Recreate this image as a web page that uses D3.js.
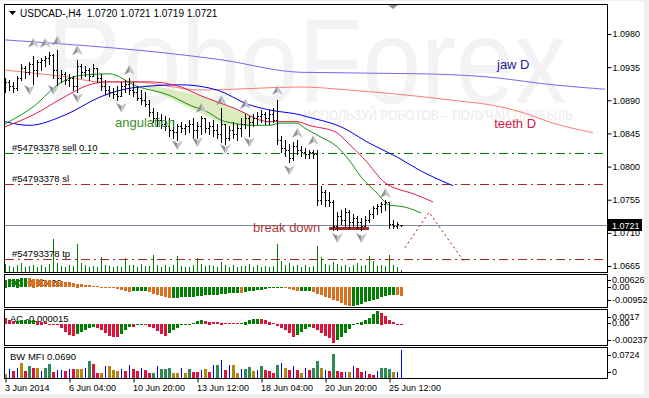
<!DOCTYPE html>
<html>
<head>
<meta charset="utf-8">
<script src="https://cdn.jsdelivr.net/npm/d3@7"></script>
<style>
body { margin: 0; background: #f0f0f0; }
svg { display: block; }
text { font-family: "Liberation Sans", Arial, sans-serif; white-space: pre; }
</style>
</head>
<body>
<div id="chart"></div>
<script>
// USDCAD H4 bars, 3 Jun 2014 .. 25 Jun 2014
var openP = [1.0907,1.0915,1.0909,1.0907,1.0920,1.0934,1.0928,1.0939,1.0931,1.0942,
  1.0945,1.0947,1.0952,1.0931,1.0920,1.0926,1.0918,1.0920,1.0909,1.0937,
  1.0928,1.0931,1.0923,1.0934,1.0920,1.0909,1.0904,1.0901,1.0899,1.0896,
  1.0909,1.0912,1.0904,1.0901,1.0893,1.0890,1.0885,1.0874,1.0866,1.0863,
  1.0858,1.0855,1.0850,1.0847,1.0855,1.0852,1.0855,1.0858,1.0850,1.0855,
  1.0866,1.0852,1.0855,1.0850,1.0844,1.0858,1.0839,1.0850,1.0844,1.0852,
  1.0858,1.0866,1.0861,1.0866,1.0869,1.0871,1.0866,1.0871,1.0863,1.0836,
  1.0825,1.0823,1.0812,1.0828,1.0823,1.0820,1.0817,1.0820,1.0817,1.0755,
  1.0765,1.0755,1.0752,1.0719,1.0733,1.0727,1.0738,1.0725,1.0730,1.0725,
  1.0719,1.0727,1.0736,1.0744,1.0746,1.0749,1.0752,1.0722,1.0719,1.0720];
var highP = [1.0920,1.0918,1.0915,1.0923,1.0939,1.0937,1.0942,1.0950,1.0945,1.0947,
  1.0950,1.0956,1.0953,1.0958,1.0931,1.0928,1.0926,1.0923,1.0945,1.0939,
  1.0937,1.0934,1.0939,1.0934,1.0926,1.0918,1.0909,1.0907,1.0909,1.0915,
  1.0918,1.0920,1.0915,1.0909,1.0904,1.0901,1.0890,1.0880,1.0874,1.0871,
  1.0869,1.0866,1.0863,1.0858,1.0861,1.0858,1.0863,1.0866,1.0861,1.0869,
  1.0866,1.0861,1.0863,1.0858,1.0880,1.0858,1.0855,1.0861,1.0858,1.0866,
  1.0871,1.0869,1.0871,1.0874,1.0877,1.0874,1.0877,1.0880,1.0890,1.0842,
  1.0836,1.0831,1.0833,1.0836,1.0828,1.0825,1.0823,1.0823,1.0823,1.0774,
  1.0768,1.0765,1.0755,1.0738,1.0741,1.0744,1.0741,1.0736,1.0733,1.0730,
  1.0733,1.0741,1.0746,1.0749,1.0752,1.0755,1.0752,1.0727,1.0725,1.0721];
var lowP = [1.0901,1.0904,1.0901,1.0904,1.0918,1.0920,1.0926,1.0912,1.0923,1.0931,
  1.0937,1.0939,1.0920,1.0909,1.0915,1.0912,1.0909,1.0904,1.0901,1.0920,
  1.0923,1.0918,1.0923,1.0915,1.0904,1.0899,1.0896,1.0893,1.0890,1.0896,
  1.0901,1.0899,1.0896,1.0890,1.0885,1.0882,1.0869,1.0861,1.0855,1.0852,
  1.0850,1.0842,1.0839,1.0836,1.0847,1.0844,1.0847,1.0839,1.0839,1.0844,
  1.0847,1.0844,1.0842,1.0839,1.0833,1.0831,1.0836,1.0839,1.0836,1.0842,
  1.0852,1.0842,1.0855,1.0858,1.0861,1.0858,1.0858,1.0861,1.0831,1.0820,
  1.0814,1.0806,1.0809,1.0817,1.0814,1.0812,1.0812,1.0812,1.0748,1.0749,
  1.0746,1.0746,1.0714,1.0714,1.0722,1.0719,1.0717,1.0719,1.0717,1.0714,
  1.0719,1.0725,1.0730,1.0736,1.0738,1.0741,1.0717,1.0717,1.0717,1.0719];
var closeP = [1.0915,1.0909,1.0907,1.0920,1.0934,1.0928,1.0939,1.0931,1.0942,1.0945,
  1.0947,1.0952,1.0931,1.0920,1.0926,1.0918,1.0920,1.0909,1.0937,1.0928,
  1.0931,1.0923,1.0934,1.0920,1.0909,1.0904,1.0901,1.0899,1.0896,1.0909,
  1.0912,1.0904,1.0901,1.0893,1.0890,1.0885,1.0874,1.0866,1.0863,1.0858,
  1.0855,1.0850,1.0847,1.0855,1.0852,1.0855,1.0858,1.0850,1.0855,1.0866,
  1.0852,1.0855,1.0850,1.0844,1.0858,1.0839,1.0850,1.0844,1.0852,1.0858,
  1.0866,1.0861,1.0866,1.0869,1.0871,1.0866,1.0871,1.0863,1.0836,1.0825,
  1.0823,1.0812,1.0828,1.0823,1.0820,1.0817,1.0820,1.0817,1.0755,1.0765,
  1.0755,1.0752,1.0719,1.0733,1.0727,1.0738,1.0725,1.0730,1.0725,1.0719,
  1.0727,1.0736,1.0744,1.0746,1.0749,1.0752,1.0722,1.0719,1.0722,1.0721];

var volumes = [2000,1400,1200,1600,2200,1300,1500,1800,1100,1700,
  1300,1900,8000,2300,1500,1200,1700,1400,6800,2100,
  1600,1300,1500,1200,3600,1800,1400,1100,1500,1300,
  3400,1700,1600,1200,1900,1400,1500,4100,1800,1300,
  1600,1200,1700,3900,1500,1300,1100,1600,3400,2000,
  1400,1800,1500,1200,2400,1600,1300,1700,1100,1500,
  1400,1900,1300,1600,1200,1500,1100,1400,6800,2600,
  1800,2200,1500,1700,1300,1600,1200,1400,6300,3600,
  2000,1700,2400,1900,1500,1800,1300,1600,2100,1400,
  1700,3900,2600,1500,1800,1400,4100,1600,1300,500];

// Alligator H4 read at sample bars: [bar, price]
var jawH4 = [[0,1.0861],[6,1.0856],[15,1.0870],[24,1.0895],[32,1.0907],[44,1.0911],[53,1.0904],
  [61,1.0884],[66,1.0877],[74,1.0870],[76,1.0867],[84,1.0854],[91,1.0832],[98,1.0813],[104,1.0794],[112,1.0774]];
var teethH4 = [[0,1.0854],[7,1.0870],[15,1.0895],[21,1.0911],[26,1.0915],[36,1.0915],[44,1.0908],
  [49,1.0896],[57,1.0880],[66,1.0861],[73,1.0861],[76,1.0856],[83,1.0846],[85,1.0836],[90,1.0809],
  [95,1.0778],[99,1.0768],[101,1.0765],[104,1.0759],[107,1.0752]];
var lipsH4 = [[0,1.0858],[7,1.0881],[14,1.0914],[18,1.0923],[26,1.0926],[33,1.0909],[41,1.0897],
  [46,1.0884],[51,1.0873],[54,1.0863],[57,1.0859],[62,1.0856],[66,1.0856],[69,1.0859],[73,1.0859],
  [75,1.0852],[79,1.0840],[83,1.0827],[86,1.0809],[89,1.0786],[93,1.0764],[96,1.0748],[100,1.0745],[104,1.0737]];
var jawD = [[0,1.0972],[54,1.0945],[74,1.0928],[104,1.0926],[120,1.0922],[137,1.0911],[150,1.0905]];
var teethD = [[0,1.0931],[7,1.0927],[15,1.0922],[24,1.0915],[32,1.0915],[49,1.0904],[74,1.0908],
  [86,1.0904],[104,1.0895],[112,1.0890],[124,1.0881],[129,1.0874],[137,1.0859],[147,1.0846]];

var fractalsUp = [[7,1.0968],[10,1.0968],[13,1.0971],[18,1.0958],[31,1.0931],[49,1.0880],[54,1.0890],
  [60,1.0885],[68,1.0904],[73,1.0846],[77,1.0836],[95,1.0764]];
var fractalsDown = [[6,1.0904],[12,1.0904],[18,1.0893],[29,1.0880],[43,1.0829],[48,1.0833],[55,1.0824],
  [61,1.0833],[71,1.0795],[83,1.0703],[89,1.0703]];

var aoValues = [3.6,3.8,4.0,4.1,4.2,4.3,4.2,4.1,3.9,3.7,3.5,3.3,3.1,2.9,2.7,2.5,2.3,2.0,1.7,1.4,
  1.1,0.8,0.6,0.4,0.2,0.05,-0.3,-0.7,-1.1,-1.5,-1.9,-2.2,-2.15,-2.1,-2.05,-2.0,-2.6,-3.2,-3.8,-4.4,
  -4.9,-5.3,-5.2,-5.1,-5.0,-4.9,-4.8,-4.6,-4.4,-4.2,-4.0,-3.9,-3.8,-3.6,-3.5,-3.3,-3.1,-2.9,-2.7,-2.8,
  -2.4,-2.1,-1.8,-1.5,-1.2,-0.9,-0.6,-0.3,0.1,0.2,-0.3,-0.8,-1.4,-2.0,-1.95,-1.9,-1.85,-2.5,-3.2,-3.9,
  -4.6,-5.3,-6.0,-6.8,-7.6,-8.4,-9.1,-8.9,-8.5,-8.0,-7.4,-6.8,-6.2,-5.6,-5.0,-4.5,-4.0,-3.7,-3.9,-4.29]; // x 0.001
var acValues = [6.5,5.0,3.5,3.8,4.2,4.5,4.8,5.0,4.0,3.0,2.2,-0.5,-1.0,-1.5,-5,-9,-12,-13,-11,-9,
  -7,-5,-3.5,-4.5,-7,-10,-13,-14,-14.5,-11,-7,-3,-3.5,-0.3,-0.2,-1.5,-3,-5,-8,-11,
  -13,-10,-7,-4.5,-0.5,0.3,0.6,0.9,3.5,4.5,3.8,3.0,2.5,2.0,1.7,1.5,1.3,1.1,0.9,1.5,
  3.0,4.5,5.5,6.0,5.5,4.5,3.0,1.5,-2,-4.5,-7,-10,-14,-12,-9,-6,-3.5,-4,-7,-10,
  -13,-16,-21.5,-18,-14,-10,-6,-1,1.5,3,5,7,11,15,13,9,5,2.5,0.8,-0.15]; // x 0.0001
var mfiValues = [9,22,17,26,38,17,30,26,26,17,26,34,15,20,20,17,23,22,22,22,
  26,42,34,12,13,30,30,19,17,22,17,32,22,18,26,20,12,13,30,23,
  23,26,13,12,25,13,22,15,15,20,22,15,32,32,45,20,32,32,12,22,
  23,28,18,19,30,19,17,12,33,38,26,19,30,19,12,24,19,26,42,25,
  19,17,59,17,15,15,15,30,26,15,17,11,8,17,25,25,22,15,15,69]; // x 0.001
var mfiKinds = 'fbsbfsgsfbggsbbsbsffbgssfbfffbsbssbssgbggg' +
  'ffbfgssbfsbgbsbffbggfbgsssgbfsbsfbsggfbsgssbfbssbssbgggfbb';

var timeTickBars = [0,16,32,48,64,80,96];
var timeTickLabels = ['3 Jun 2014','6 Jun 04:00','10 Jun 20:00','13 Jun 12:00','18 Jun 04:00','20 Jun 20:00','25 Jun 12:00'];
var priceTicks = [1.0665,1.0710,1.0755,1.0800,1.0845,1.0890,1.0935,1.0980];

var orderLines = [
  {label: '#54793378 sell 0.10', price: 1.0818, color: '#008000'},
  {label: '#54793378 sl', price: 1.0777, color: '#a52a2a'},
  {label: '#54793378 tp', price: 1.0674, color: '#a52a2a'}
];
var lastPrice = 1.0721;
var angulationZone = [[35,1.0912],[49,1.0896],[57,1.0880],[62,1.0869],[62,1.0855],[55,1.0856],[35,1.0909]];
var breakLevel = [[81,1.0716],[91,1.0716]];
var projection = [[100,1.0690],[106,1.0738],[115,1.0669]];
var notes = [
  {text: 'angulation', bar: 27.5, price: 1.0854, color: '#3a8f2c'},
  {text: 'break down', bar: 62, price: 1.0711, color: '#b03a3a'},
  {text: 'jaw D', bar: 123, price: 1.0933, color: '#1c1c96'},
  {text: 'teeth D', bar: 122.3, price: 1.0852, color: '#d02040'}
];

var W = 649, H = 398;
var svg = d3.select('#chart').append('svg').attr('width', W).attr('height', H);
svg.append('rect').attr('width', W).attr('height', H).attr('fill', '#f0f0f0');
svg.append('rect').attr('x', 0).attr('y', 1).attr('width', 644).attr('height', 393).attr('fill', '#fff');

var x = d3.scaleLinear().domain([0, 150]).range([5, 605]);
var y = d3.scaleLinear().domain([1.0665, 1.0980]).range([266, 34]);
var yAO = d3.scaleLinear().domain([-0.00952, 0.00626]).range([307, 274]);
var yAC = d3.scaleLinear().domain([-0.00237, 0.0017]).range([345.5, 309]);
var yMFI = d3.scaleLinear().domain([0, 0.0724]).range([378, 349]);
var yVol = d3.scaleLinear().domain([0, 8000]).range([272, 239]);

// watermark
svg.append('text').attr('x', x(10.5)).attr('y', 103).text('RoboForex')
  .attr('font-size', 120).attr('textLength', 520).attr('lengthAdjust', 'spacingAndGlyphs')
  .attr('fill', '#f3f3f6');
svg.append('text').attr('x', x(74.5)).attr('y', 120).text('ИСПОЛЬЗУЙ РОБОТОВ – ПОЛУЧАЙ ПРИБЫЛЬ')
  .attr('font-size', 15).attr('textLength', 270).attr('lengthAdjust', 'spacingAndGlyphs')
  .attr('fill', '#ebebf0');

var line = d3.line().x(function (d) { return x(d[0]); }).y(function (d) { return y(d[1]); });
var smooth = d3.line().x(function (d) { return x(d[0]); }).y(function (d) { return y(d[1]); }).curve(d3.curveMonotoneX);

svg.append('path').attr('d', line(angulationZone) + 'Z').attr('fill', '#d6e9b3').attr('opacity', 0.85);

// volumes
svg.append('g').attr('shape-rendering', 'crispEdges').selectAll('rect')
  .data(volumes).enter().append('rect')
  .attr('x', function (d, i) { return x(i); })
  .attr('y', function (d) { return Math.round(yVol(d)); })
  .attr('width', 1)
  .attr('height', function (d) { return 272 - Math.round(yVol(d)); })
  .attr('fill', '#008000');

// order lines
orderLines.forEach(function (o) {
  var yy = Math.round(y(o.price)) + 0.5;
  svg.append('line').attr('x1', 5).attr('x2', 607).attr('y1', yy).attr('y2', yy)
    .attr('stroke', o.color).attr('stroke-dasharray', '9,4,2,4');
  svg.append('text').attr('x', x(1.75)).attr('y', yy - 3).text(o.label)
    .attr('font-size', 9.5).attr('fill', '#000');
});
var yLast = Math.round(y(lastPrice)) + 0.5;
svg.append('line').attr('x1', 5).attr('x2', 607).attr('y1', yLast).attr('y2', yLast).attr('stroke', '#7a8a9a');

// daily alligator
svg.append('path').attr('d', smooth(jawD)).attr('fill', 'none').attr('stroke', '#7b68ee');
svg.append('path').attr('d', smooth(teethD)).attr('fill', 'none').attr('stroke', '#fa8072');
// H4 alligator
svg.append('path').attr('d', smooth(jawH4)).attr('fill', 'none').attr('stroke', '#0000ee');
svg.append('path').attr('d', smooth(teethH4)).attr('fill', 'none').attr('stroke', '#e0204a');
svg.append('path').attr('d', smooth(lipsH4)).attr('fill', 'none').attr('stroke', '#139313');

svg.append('path').attr('d', line(breakLevel)).attr('stroke', '#a52a2a').attr('stroke-width', 3);
svg.append('path').attr('d', line(projection)).attr('fill', 'none').attr('stroke', '#9b1c1c')
  .attr('stroke-dasharray', '2,3');

// OHLC bars
var bars = d3.range(openP.length).map(function (i) {
  return {i: i, o: openP[i], h: highP[i], l: lowP[i], c: closeP[i]};
});
var gb = svg.append('g').attr('shape-rendering', 'crispEdges').attr('fill', '#000');
gb.selectAll('rect.hl').data(bars).enter().append('rect').attr('class', 'hl')
  .attr('x', function (d) { return x(d.i); })
  .attr('y', function (d) { return Math.round(y(d.h)); })
  .attr('width', 1)
  .attr('height', function (d) { return Math.round(y(d.l)) - Math.round(y(d.h)) + 1; });
gb.selectAll('rect.op').data(bars).enter().append('rect').attr('class', 'op')
  .attr('x', function (d) { return x(d.i) - 1; })
  .attr('y', function (d) { return Math.round(y(d.o)); })
  .attr('width', 1).attr('height', 1);
gb.selectAll('rect.cl').data(bars).enter().append('rect').attr('class', 'cl')
  .attr('x', function (d) { return x(d.i) + 1; })
  .attr('y', function (d) { return Math.round(y(d.c)); })
  .attr('width', 1).attr('height', 1);

// fractals
function arrow(g, cx, cy, up) {
  var s = up ? 1 : -1;
  g.append('path').attr('d', 'M' + cx + ',' + (cy - 5 * s) + 'L' + cx + ',' + (cy + 2 * s) + 'L' + (cx - 5.5) + ',' + (cy + 5 * s) + 'Z')
    .attr('fill', '#8f8f99');
  g.append('path').attr('d', 'M' + cx + ',' + (cy - 5 * s) + 'L' + (cx + 5.5) + ',' + (cy + 5 * s) + 'L' + cx + ',' + (cy + 2 * s) + 'Z')
    .attr('fill', '#c3c3cb');
}
var gf = svg.append('g');
fractalsUp.forEach(function (f) { arrow(gf, x(f[0]) + 0.5, y(f[1]), true); });
fractalsDown.forEach(function (f) { arrow(gf, x(f[0]) + 0.5, y(f[1]), false); });

notes.forEach(function (n) {
  svg.append('text').attr('x', x(n.bar)).attr('y', y(n.price)).text(n.text)
    .attr('font-size', 13).attr('fill', n.color);
});

// indicator labels (under the bars)
svg.append('text').attr('x', 8).attr('y', 286).text('AO -0.00429').attr('font-size', 9.5);
svg.append('text').attr('x', 10).attr('y', 322).text('AC -0.000015').attr('font-size', 9.5);
svg.append('text').attr('x', 10).attr('y', 360).text('BW MFI 0.0690').attr('font-size', 9.5);

// AO
var gAO = svg.append('g').attr('shape-rendering', 'crispEdges');
gAO.selectAll('rect').data(aoValues).enter().append('rect')
  .attr('x', function (d, i) { return x(i) - 1; })
  .attr('width', 3)
  .attr('y', function (d) { return Math.round(Math.min(yAO(d / 1000), yAO(0))); })
  .attr('height', function (d) { return Math.max(1, Math.round(Math.abs(yAO(d / 1000) - yAO(0)))); })
  .attr('fill', function (d, i) { return (i === 0 || d > aoValues[i - 1]) ? '#008000' : '#d9701f'; });

// AC
var gAC = svg.append('g').attr('shape-rendering', 'crispEdges');
gAC.selectAll('rect').data(acValues).enter().append('rect')
  .attr('x', function (d, i) { return x(i) - 1; })
  .attr('width', 3)
  .attr('y', function (d) { return Math.round(Math.min(yAC(d / 10000), yAC(0))); })
  .attr('height', function (d) { return Math.max(1, Math.round(Math.abs(yAC(d / 10000) - yAC(0)))); })
  .attr('fill', function (d, i) { return (i > 0 && d > acValues[i - 1]) ? '#008000' : '#dc143c'; });

// BW MFI
var mfiColor = {g: '#2e8b57', f: '#b8860b', b: '#0000ff', s: '#dc143c'};
var gM = svg.append('g').attr('shape-rendering', 'crispEdges');
gM.selectAll('rect').data(mfiValues).enter().append('rect')
  .attr('x', function (d, i) { return mfiKinds[i] === 'b' ? x(i) : x(i) - 1; })
  .attr('width', function (d, i) { return mfiKinds[i] === 'b' ? 1 : 3; })
  .attr('y', function (d) { return Math.round(yMFI(d / 1000)); })
  .attr('height', function (d) { return 378 - Math.round(yMFI(d / 1000)); })
  .attr('fill', function (d, i) { return mfiColor[mfiKinds[i]]; });

// panel frames
var frames = [[4.5, 4.5, 268], [4.5, 274.5, 33], [4.5, 309.5, 36], [4.5, 347.5, 31]];
frames.forEach(function (f) {
  svg.append('rect').attr('x', f[0]).attr('y', f[1]).attr('width', 603).attr('height', f[2])
    .attr('fill', 'none').attr('stroke', '#000');
});

// price axis
var ay = svg.append('g').attr('transform', 'translate(607.5,0)')
  .call(d3.axisRight(y).tickValues(priceTicks).tickSize(4).tickPadding(1).tickFormat(d3.format('.4f')));
ay.select('.domain').remove();
ay.selectAll('text').attr('font-size', 9).attr('fill', '#000').attr('font-family', '"Liberation Sans", Arial, sans-serif');

// current price tag
svg.append('rect').attr('x', 608).attr('y', yLast - 6.5).attr('width', 34).attr('height', 12).attr('fill', '#000');
svg.append('text').attr('x', 612).attr('y', yLast + 3.5).text(d3.format('.4f')(lastPrice))
  .attr('font-size', 9).attr('fill', '#fff');

// indicator scales
var sideLabels = [
  ['0.00626', yAO.range()[1] + 6], ['0.00', yAO(0)], ['-0.00952', yAO.range()[0] - 7],
  ['0.0017', yAC.range()[1] + 8], ['0.00', yAC(0) - 1], ['-0.00237', yAC.range()[0] - 5.5],
  ['0.0724', yMFI.range()[1] + 6], ['0', yMFI(0) - 6]
];
sideLabels.forEach(function (s) {
  svg.append('line').attr('x1', 607).attr('x2', 611).attr('y1', Math.round(s[1]) + 0.5).attr('y2', Math.round(s[1]) + 0.5).attr('stroke', '#000');
  svg.append('text').attr('x', 612).attr('y', s[1]).attr('dy', '0.32em').text(s[0]).attr('font-size', 9);
});

// time axis
var ax = svg.append('g').attr('transform', 'translate(0.5,378.5)')
  .call(d3.axisBottom(x).tickValues(timeTickBars).tickSize(4).tickPadding(2)
    .tickFormat(function (d, i) { return timeTickLabels[i]; }));
ax.select('.domain').remove();
ax.selectAll('text').attr('text-anchor', 'start').attr('dx', -1).attr('font-size', 9)
  .attr('fill', '#000').attr('font-family', '"Liberation Sans", Arial, sans-serif');

// title
svg.append('path').attr('d', 'M9,11L16,11L12.5,15Z').attr('fill', '#000');
svg.append('text').attr('x', 20).attr('y', 17).text('USDCAD-,H4  1.0720 1.0721 1.0719 1.0721')
  .attr('font-size', 10).attr('fill', '#000');
// chart shift marker
svg.append('path').attr('d', 'M' + (x(97) - 5) + ',5L' + (x(97) + 5) + ',5L' + x(97) + ',9Z').attr('fill', '#909090');
</script>
</body>
</html>
